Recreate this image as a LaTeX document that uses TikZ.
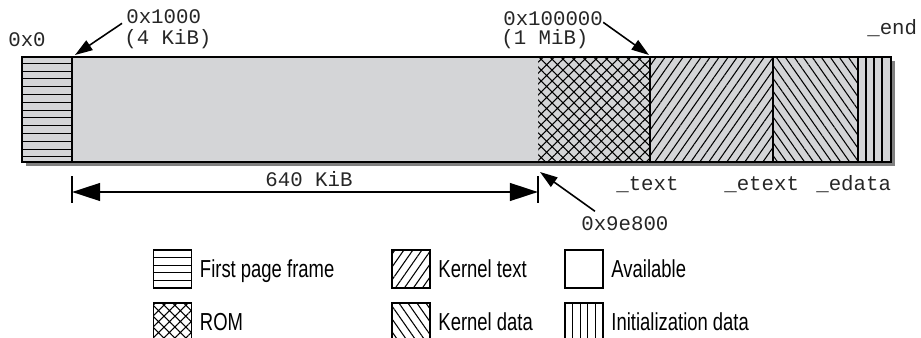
\documentclass[tikz,border=0pt]{standalone}
\usepackage{fontspec}
\setmainfont{Liberation Sans}
\newfontfamily\addrfont{Liberation Mono}
\newfontfamily\keyfont[FakeStretch=0.75]{Liberation Sans}
\usetikzlibrary{arrows.meta, positioning, patterns.meta, calc}
\definecolor{barfill}{RGB}{212,213,215}
\definecolor{barshadow}{RGB}{128,128,128}

\begin{document}
\begin{tikzpicture}[
    x=0.02cm, y=-0.02cm,
    addr/.style={font={\addrfont\fontsize{11.8}{14}\selectfont}, inner sep=0pt, text height=7.6pt, text depth=0pt, anchor=base west, text=black!85},
    keytext/.style={font={\keyfont\fontsize{14}{16}\selectfont}, inner sep=0pt, text height=10.2pt, text depth=0pt, anchor=west},
    keybox/.style={draw, line width=0.8pt, minimum width=21.5pt, minimum height=21.5pt, inner sep=0pt},
    seg/.style={draw, line width=0.7pt},
    hatch/.style={line width=0.6pt},
    ptr/.style={-{Triangle[length=10pt, width=6.5pt]}, line width=0.9pt},
    dimarr/.style={{Triangle[length=16pt, width=10pt]}-{Triangle[length=16pt, width=10pt]}, line width=1.5pt},
    dimtick/.style={line width=1.2pt},
    textpat/.style={pattern={Lines[angle=55, distance=4.2pt, line width=0.6pt]}},
    datapat/.style={pattern={Lines[angle=-55, distance=4.2pt, line width=0.6pt]}},
    rompat/.style={pattern={Hatch[angle=45, distance=4.4pt, line width=0.6pt]}}
]
\useasboundingbox (0,0) rectangle (921,338);

% memory bar
\fill[barshadow] (26,61) rectangle (895,166);
\fill[barfill] (22,57) rectangle (891,162);
\foreach \y in {63.3,71.1,...,157} \draw[hatch] (22,\y) -- (72,\y);
\path[rompat] (538,57) rectangle (650,162);
\path[textpat] (650,57) rectangle (773,162);
\path[datapat] (773,57) rectangle (858,162);
\foreach \x in {866,874,882} \draw[hatch] (\x,57) -- (\x,162);
\draw[seg] (22,57) rectangle (891,162);
\foreach \x in {72,650,773,858} \draw[seg] (\x,57) -- (\x,162);

\coordinate (at1000) at (75,55);
\coordinate (at100000) at (649,55);
\coordinate (at9e800) at (540,172);
\coordinate (dimL) at (72,192);
\coordinate (dimR) at (538,192);

% addresses
\node[addr] (lbl0) at (8,47) {0x0};
\node[addr] (hex1000) at (126,24) {0x1000};
\node[addr] (kib4) at (124,45) {(4 KiB)};
\node[addr] (hex100000) at (503,26) {0x100000};
\node[addr] (mib1) at (501,45) {(1 MiB)};
\node[addr] (lblend) at (867,34) {\_end};
\node[addr] (lbltext) at (616,190) {\_text};
\node[addr] (lbletext) at (724,190) {\_etext};
\node[addr] (lbledata) at (816,190) {\_edata};
\node[addr, anchor=base] (lbl640) at (309,186) {640 KiB};
\node[addr] (hex9e800) at (581,230) {0x9e800};

\draw[ptr] ([shift={(-4,-1)}]hex1000.south west) -- (at1000);
\draw[ptr] ([shift={(0,-4)}]hex100000.south east) -- (at100000);
\draw[ptr] ([shift={(14,-5)}]hex9e800.north west) -- (at9e800);

% 640 KiB span
\draw[dimtick] (72,176) -- (72,203);
\draw[dimtick] (538,176) -- (538,203);
\draw[dimarr] (dimL) -- (dimR);

% legend
\node[keybox] (kfirst) at (172.5,269) {};
\foreach \f in {0.2,0.4,0.6,0.8}
  \draw[hatch] ($(kfirst.north west)!\f!(kfirst.south west)$) -- ($(kfirst.north east)!\f!(kfirst.south east)$);
\node[keytext, right=4.3pt of kfirst] (tfirst) {First page frame};
\node[keybox, textpat] (ktext) at (411,269) {};
\node[keytext, right=4.3pt of ktext] (ttext) {Kernel text};
\node[keybox] (kavail) at (584,269) {};
\node[keytext, right=4.3pt of kavail] (tavail) {Available};

\node[keybox, rompat] (krom) at (172.5,322) {};
\node[keytext, right=4.3pt of krom] (trom) {ROM};
\node[keybox, datapat] (kdata) at (411,322) {};
\node[keytext, right=4.3pt of kdata] (tdata) {Kernel data};
\node[keybox] (kinit) at (584,322) {};
\foreach \f in {0.2,0.4,0.6,0.8}
  \draw[hatch] ($(kinit.north west)!\f!(kinit.north east)$) -- ($(kinit.south west)!\f!(kinit.south east)$);
\node[keytext, right=4.3pt of kinit] (tinit) {Initialization data};

\end{tikzpicture}
\end{document}
